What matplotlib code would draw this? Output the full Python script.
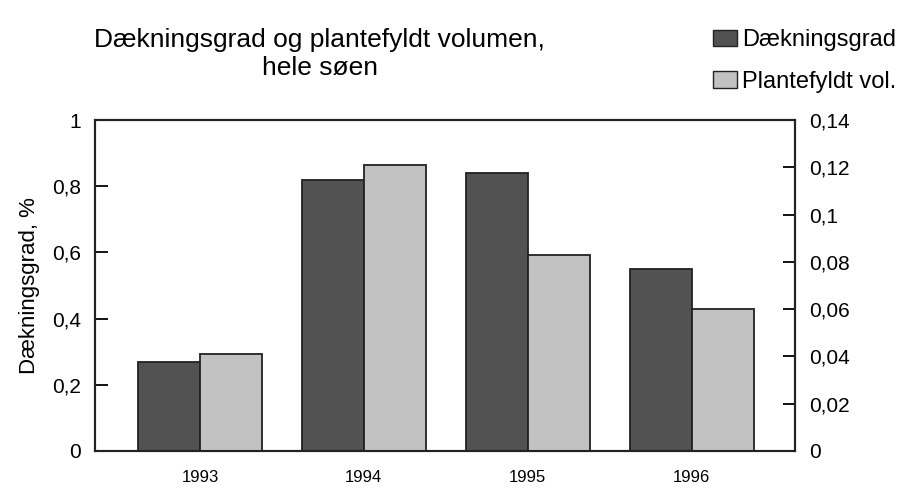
import numpy as np
import matplotlib.pyplot as plt
from matplotlib.patches import Patch

plt.rcParams['font.family'] = ['Liberation Sans', 'DejaVu Sans']

years = ['1993', '1994', '1995', '1996']
daekningsgrad = [0.27, 0.82, 0.84, 0.55]
plantefyldt = [0.041, 0.121, 0.083, 0.060]

dark = '#525252'
light = '#c2c2c2'
edge = '#222222'


def comma(v, decimals):
    s = f'{v:.{decimals}f}'.rstrip('0').rstrip('.')
    return s.replace('.', ',')


fig = plt.figure(figsize=(9.01, 4.90), dpi=100)
ax = fig.add_axes([0.1054, 0.0796, 0.7770, 0.6755])
ax2 = ax.twinx()

x = np.arange(len(years))
w = 0.378
ax.bar(x - w / 2, daekningsgrad, w, color=dark, edgecolor=edge, linewidth=1.3, zorder=2)
ax2.bar(x + w / 2, plantefyldt, w, color=light, edgecolor=edge, linewidth=1.3, zorder=2)

ax.set_xlim(-0.64, 3.63)
ax.set_ylim(0, 1)
ax2.set_ylim(0, 0.14)

lt = np.arange(0, 1.01, 0.2)
ax.set_yticks(lt)
ax.set_yticklabels([comma(v, 1) for v in lt], fontsize=15)
rt = np.arange(0, 0.141, 0.02)
ax2.set_yticks(rt)
ax2.set_yticklabels([comma(v, 2) for v in rt], fontsize=15)

ax.set_xticks(x)
ax.set_xticklabels(years, fontsize=12)
ax.tick_params(axis='x', length=0, pad=14)
ax.tick_params(axis='y', direction='in', length=9, width=1.3, pad=10)
ax2.tick_params(axis='y', direction='in', length=9, width=1.3, pad=10)

for a in (ax, ax2):
    for s in a.spines.values():
        s.set_linewidth(1.5)
        s.set_color(edge)

ax.set_ylabel('Dækningsgrad, %', fontsize=16, labelpad=9)

fig.text(0.355, 0.89, 'Dækningsgrad og plantefyldt volumen,\nhele søen',
         ha='center', va='center', fontsize=19, linespacing=1.25)

handles = [Patch(facecolor=dark, edgecolor=edge),
           Patch(facecolor=light, edgecolor=edge)]
fig.legend(handles, ['Dækningsgrad', 'Plantefyldt vol.'],
           loc='upper left', bbox_to_anchor=(0.791, 0.94), frameon=False,
           fontsize=17, handlelength=1.02, handleheight=0.68, handletextpad=0.22,
           labelspacing=0.82, borderaxespad=0, borderpad=0)

fig.savefig('out.png', dpi=100)
